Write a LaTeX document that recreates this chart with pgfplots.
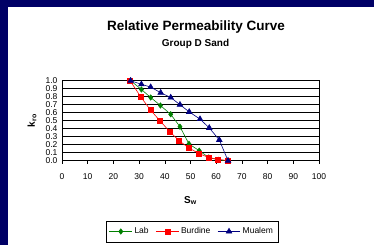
\documentclass[border=0pt]{standalone}
\usepackage{pgfplots}
\pgfplotsset{compat=1.18}
\usepackage{fontspec}
\setmainfont{Liberation Sans}
\definecolor{navyb}{RGB}{0,0,102}
\definecolor{labg}{RGB}{0,128,0}
\definecolor{mblue}{RGB}{0,0,128}
\begin{document}
\begin{tikzpicture}
\path[use as bounding box] (0pt,0pt) rectangle (374pt,245pt);
\fill[navyb] (0pt,0pt) rectangle (8pt,245pt);
\fill[navyb] (0pt,238pt) rectangle (374pt,245pt);
\node[font=\bfseries\fontsize{13.5}{15}\selectfont] at (196pt,217.5pt) {Relative Permeability Curve};
\node[font=\bfseries\fontsize{10}{12}\selectfont] at (195.5pt,201pt) {Group D Sand};
\begin{axis}[
  at={(62pt,84.3pt)}, anchor=south west, scale only axis,
  width=257pt, height=80pt,
  xmin=0, xmax=100, ymin=0, ymax=1,
  xtick={0,10,20,30,40,50,60,70,80,90,100},
  ytick={0,0.1,0.2,0.3,0.4,0.5,0.6,0.7,0.8,0.9,1.0},
  yticklabel style={/pgf/number format/fixed, /pgf/number format/fixed zerofill, /pgf/number format/precision=1, xshift=2pt},
  /pgf/number format/assume math mode=true,
  ymajorgrids, grid style={black, line width=0.6pt},
  axis line style={black, line width=0.6pt},
  tick align=outside, xtick pos=bottom, ytick pos=left,
  major tick length=3pt, tick style={black, line width=0.5pt},
  y tick style={draw=none},
  tick label style={font=\fontsize{8.5}{8.5}\selectfont},
  xticklabel style={yshift=-6pt},
  xlabel={\textbf{S\textsubscript{w}}},
  ylabel={\textbf{k\textsubscript{ro}}},
  label style={font=\fontsize{10}{10}\selectfont},
  xlabel style={at={(axis description cs:0.5,-0.5)}, anchor=center},
  ylabel style={at={(axis description cs:-0.117,0.5)}, anchor=center},
  legend columns=3,
  legend style={at={(0.506,-0.885)}, anchor=center, draw=black, line width=0.6pt,
    font=\fontsize{8.5}{9}\selectfont, inner xsep=3pt, inner ysep=4.5pt,
    /tikz/every even column/.append style={column sep=5pt}},
  legend image code/.code={\draw[mark repeat=2,mark phase=2] plot coordinates {(0cm,0cm)(0.4cm,0cm)(0.8cm,0cm)};},
  legend image post style={line width=0.6pt},
]
\addplot[labg, line width=0.6pt, mark=diamond*, mark size=2.7pt, mark options={fill=labg, draw=labg}] coordinates {
(26.7,1.0)(30.9,0.89)(34.5,0.79)(38.3,0.69)(42.3,0.58)(45.9,0.425)(49.4,0.21)(53.4,0.125)(57.1,0.04)(60.9,0.01)(64.6,0.0)};
\addlegendentry{Lab}
\addplot[red, line width=0.6pt, mark=square*, mark size=2.5pt, mark options={fill=red, draw=red}] coordinates {
(26.5,1.0)(30.6,0.80)(34.5,0.63)(38.1,0.50)(42.0,0.36)(45.6,0.25)(49.3,0.16)(53.3,0.09)(57.0,0.04)(60.8,0.017)(64.6,0.0)};
\addlegendentry{Burdine}
\addplot[mblue, line width=0.6pt, mark=triangle*, mark size=3.2pt, mark options={fill=mblue, draw=mblue}] coordinates {
(26.7,1.0)(30.9,0.955)(34.5,0.92)(38.4,0.85)(42.3,0.79)(45.9,0.70)(49.5,0.61)(53.7,0.52)(57.3,0.41)(61.2,0.26)(64.6,0.0)};
\addlegendentry{Mualem}
\end{axis}
\end{tikzpicture}
\end{document}
